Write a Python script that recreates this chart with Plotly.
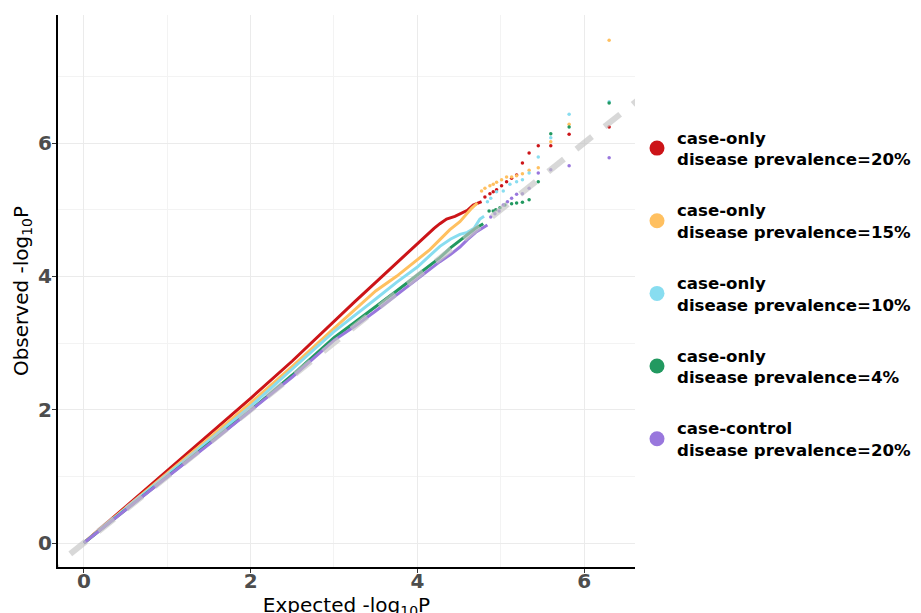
import plotly.graph_objects as go

# ---------------- data ----------------
names = [
    "case-only<br>disease prevalence=20%",
    "case-only<br>disease prevalence=15%",
    "case-only<br>disease prevalence=10%",
    "case-only<br>disease prevalence=4%",
    "case-control<br>disease prevalence=20%",
]
colors = ["#CC1418", "#FFC060", "#88DDF0", "#229960", "#9977DD"]

# dense body of each QQ curve (expected, observed)
red_body_x = [0, 0.5, 1.0, 1.5, 2.0, 2.5, 3.0, 3.25, 3.5, 3.75, 4.0, 4.1, 4.2, 4.27, 4.35, 4.45, 4.51, 4.6, 4.67, 4.72, 4.77]
red_body_y = [0, 0.54, 1.08, 1.62, 2.17, 2.73, 3.33, 3.62, 3.91, 4.20, 4.49, 4.61, 4.72, 4.79, 4.86, 4.90, 4.94, 4.99, 5.07, 5.10, 5.12]
orange_body_x = [0, 0.5, 1.0, 1.5, 2.0, 2.5, 3.0, 3.5, 3.75, 4.0, 4.15, 4.27, 4.39, 4.51, 4.6, 4.65, 4.72]
orange_body_y = [0, 0.52, 1.05, 1.57, 2.10, 2.65, 3.22, 3.78, 4.00, 4.25, 4.40, 4.55, 4.70, 4.82, 4.95, 5.02, 5.10]
cyan_body_x = [0, 0.5, 1.0, 1.5, 2.0, 2.5, 3.0, 3.5, 3.75, 4.0, 4.15, 4.27, 4.4, 4.51, 4.6, 4.68, 4.75, 4.8]
cyan_body_y = [0, 0.51, 1.03, 1.54, 2.05, 2.61, 3.17, 3.66, 3.91, 4.14, 4.32, 4.45, 4.56, 4.63, 4.66, 4.72, 4.86, 4.90]
green_body_x = [0, 0.5, 1.0, 1.5, 2.0, 2.5, 3.0, 3.25, 3.5, 3.75, 4.0, 4.15, 4.27, 4.4, 4.51, 4.6, 4.7, 4.79]
green_body_y = [0, 0.50, 1.00, 1.49, 1.99, 2.52, 3.08, 3.31, 3.54, 3.78, 4.02, 4.16, 4.28, 4.43, 4.54, 4.62, 4.72, 4.79]
purple_body_x = [0, 0.5, 1.0, 1.5, 2.0, 2.5, 3.0, 3.25, 3.5, 3.75, 4.0, 4.15, 4.27, 4.4, 4.51, 4.6, 4.7, 4.84]
purple_body_y = [0, 0.50, 0.99, 1.48, 1.98, 2.49, 3.04, 3.25, 3.48, 3.72, 3.97, 4.10, 4.22, 4.33, 4.44, 4.55, 4.66, 4.77]

# sparse tail points
red_tail_x = [4.81, 4.87, 4.91, 4.95, 5.01, 5.07, 5.13, 5.19, 5.26, 5.34, 5.45, 5.60, 5.82, 6.30]
red_tail_y = [5.19, 5.24, 5.27, 5.30, 5.36, 5.42, 5.47, 5.52, 5.70, 5.85, 5.96, 5.96, 6.13, 6.24]
orange_tail_x = [4.77, 4.81, 4.87, 4.91, 4.95, 5.01, 5.07, 5.13, 5.19, 5.26, 5.34, 5.45, 5.60, 5.82, 6.30]
orange_tail_y = [5.28, 5.32, 5.36, 5.38, 5.41, 5.45, 5.49, 5.49, 5.51, 5.54, 5.59, 5.63, 6.02, 6.28, 7.54]
cyan_tail_x = [4.84, 4.88, 4.95, 5.03, 5.11, 5.19, 5.26, 5.34, 5.45, 5.60, 5.82, 6.30]
cyan_tail_y = [5.12, 5.17, 5.27, 5.28, 5.38, 5.42, 5.45, 5.55, 5.79, 6.08, 6.43, 6.62]
green_tail_x = [4.86, 4.91, 4.94, 4.99, 5.05, 5.13, 5.19, 5.26, 5.34, 5.45, 5.60, 5.82, 6.30]
green_tail_y = [4.98, 4.98, 5.00, 5.03, 5.07, 5.09, 5.10, 5.11, 5.15, 5.42, 6.14, 6.24, 6.60]
purple_tail_x = [4.88, 4.93, 4.98, 5.03, 5.08, 5.13, 5.19, 5.26, 5.34, 5.45, 5.60, 5.82, 6.30]
purple_tail_y = [4.89, 4.94, 4.98, 5.07, 5.12, 5.17, 5.23, 5.24, 5.32, 5.55, 5.60, 5.66, 5.78]

bodies = [(red_body_x, red_body_y), (orange_body_x, orange_body_y), (cyan_body_x, cyan_body_y),
          (green_body_x, green_body_y), (purple_body_x, purple_body_y)]
tails = [(red_tail_x, red_tail_y), (orange_tail_x, orange_tail_y), (cyan_tail_x, cyan_tail_y),
         (green_tail_x, green_tail_y), (purple_tail_x, purple_tail_y)]

diag = [-0.5, 6.8]
x_ticks = [0, 2, 4, 6]
y_ticks = [0, 2, 4, 6]
x_range = [-0.31, 6.61]
y_range = [-0.36, 7.92]

# ---------------- figure ----------------
fig = go.Figure()
for i, name in enumerate(names):
    bx, by = bodies[i]
    tx, ty = tails[i]
    fig.add_trace(go.Scatter(x=bx, y=by, mode="lines", line=dict(color=colors[i], width=3),
                             showlegend=False, legendgroup=str(i), hoverinfo="skip"))
    fig.add_trace(go.Scatter(x=tx, y=ty, mode="markers", marker=dict(color=colors[i], size=3.5),
                             showlegend=False, legendgroup=str(i)))
    fig.add_trace(go.Scatter(x=[None], y=[None], mode="markers", name=name,
                             marker=dict(color=colors[i], size=15), legendgroup=str(i)))

fig.add_trace(go.Scatter(x=diag, y=diag, mode="lines", showlegend=False,
                         line=dict(color="rgba(195,195,195,0.65)", width=6, dash="20px,16px")))

# the page body has an 8px margin, so figure coords = page coords - 8
W, H = 940, 613
L, T = 50, 7
R = W - 627
B = H - 559
pw, ph = W - L - R, H - T - B
leg_left_px = 629
leg_top_px = 112

tickfont = dict(family="DejaVu Sans", size=20, color="#4D4D4D", weight="bold")
titlefont = dict(family="DejaVu Sans", size=20, color="black")

fig.update_layout(
    width=W, height=H,
    margin=dict(l=L, r=R, t=T, b=B),
    paper_bgcolor="white", plot_bgcolor="white",
    legend=dict(x=(leg_left_px - L) / pw, xanchor="left",
                y=1 - (leg_top_px - T) / ph, yanchor="top",
                font=dict(family="DejaVu Sans", size=16.6, color="black", weight="bold"),
                tracegroupgap=26.5, itemwidth=30, valign="middle",
                bgcolor="rgba(0,0,0,0)"),
)
fig.update_xaxes(range=x_range, tickvals=x_ticks, showgrid=True, gridcolor="#EBEBEB", gridwidth=1.2,
                 minor=dict(tickvals=[1, 3, 5], showgrid=True, gridcolor="#F3F3F3", gridwidth=0.8),
                 zeroline=False, showline=True, linecolor="black", linewidth=2, automargin=False,
                 ticks="outside", ticklen=4, tickcolor="#333333", tickwidth=1.2,
                 tickfont=tickfont, ticklabelstandoff=-9,
                 title=dict(text="Expected -log<sub>10</sub>P", font=titlefont, standoff=3))
fig.update_yaxes(range=y_range, tickvals=y_ticks, showgrid=True, gridcolor="#EBEBEB", gridwidth=1.2,
                 minor=dict(tickvals=[1, 3, 5, 7], showgrid=True, gridcolor="#F3F3F3", gridwidth=0.8),
                 zeroline=False, showline=True, linecolor="black", linewidth=2, automargin=False,
                 ticks="outside", ticklen=4, tickcolor="#333333", tickwidth=1.2,
                 tickfont=tickfont, ticklabelstandoff=-4,
                 title=dict(text="Observed -log<sub>10</sub>P", font=titlefont, standoff=4))

fig.write_html("out.html")
